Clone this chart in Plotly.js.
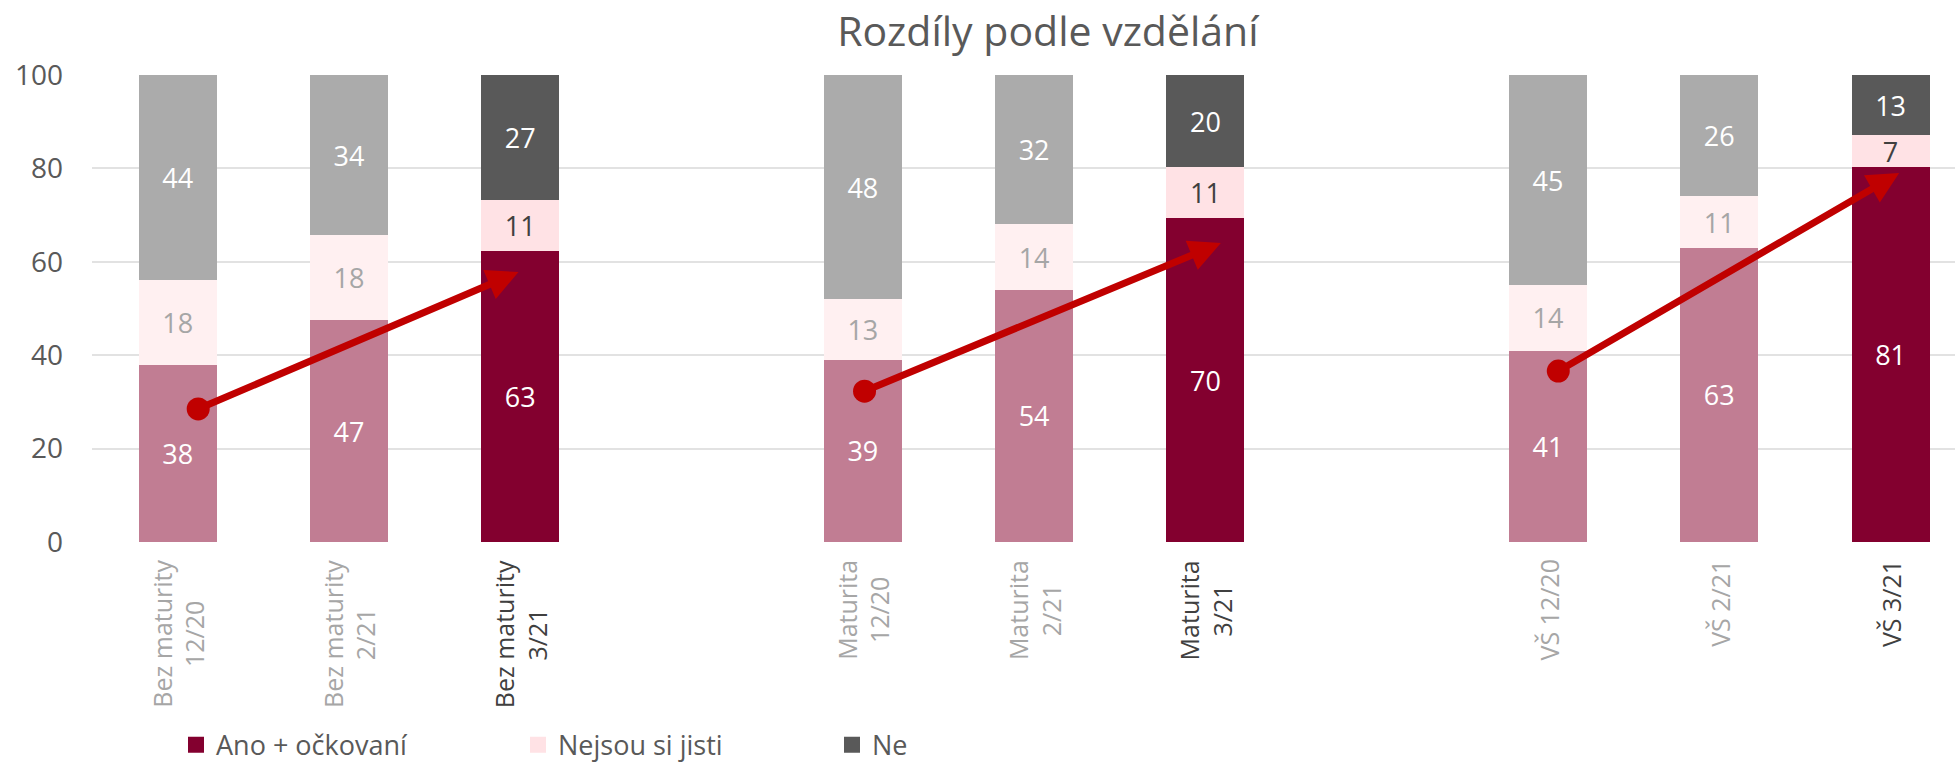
<!DOCTYPE html>
<html>
<head>
<meta charset="utf-8">
<script src="https://cdn.plot.ly/plotly-3.0.1.min.js"></script>
<style>html,body{margin:0;padding:0;background:#fff;}#chart{width:1955px;height:762px;}</style>
</head>
<body>
<div id="chart"></div>
<script>
// ---- data ----
const categories = ["Bez maturity 12/20", "Bez maturity 2/21", "Bez maturity 3/21", "mezera 1",
                    "Maturita 12/20", "Maturita 2/21", "Maturita 3/21", "mezera 2",
                    "VŠ 12/20", "VŠ 2/21", "VŠ 3/21"];
const tickLabels = ["Bez maturity<br>12/20", "Bez maturity<br>2/21", "Bez maturity<br>3/21", "",
                    "Maturita<br>12/20", "Maturita<br>2/21", "Maturita<br>3/21", "",
                    "VŠ 12/20", "VŠ 2/21", "VŠ 3/21"];
const latestWave = [false, false, true, null, false, false, true, null, false, false, true];
const ano    = [38, 47, 63, null, 39, 54, 70, null, 41, 63, 81];
const nejsou = [18, 18, 11, null, 13, 14, 11, null, 14, 11, 7];
const ne     = [44, 34, 27, null, 48, 32, 20, null, 45, 26, 13];
const seriesNames = ["Ano + očkovaní", "Nejsou si jisti", "Ne"];
// trend arrows (start point with dot, end point with arrow head)
const arrowStartX = [0.12, 4.01, 8.06];
const arrowStartY = [28.5, 32.3, 36.6];
const arrowEndX   = [1.99, 6.09, 10.05];
const arrowEndY   = [57.8, 64.0, 79.0];

// ---- styles ----
const FONT = "Open Sans, Noto Sans, sans-serif";
const colAnoOld = "#C17D93", colAnoNew = "#83002F";
const colNejOld = "#FFF0F1", colNejNew = "#FFE2E5";
const colNeOld = "#ABABAB", colNeNew = "#595959";
const red = "#C00000";
const xRange = [-0.5, 10.376];

function pick(arr, a, b) { return arr.map(v => v === null ? b : (v ? a : b)); }
function txt(vals) { return vals.map(v => v === null ? "" : String(v)); }

const barCommon = {
  type: "bar", x: categories, showlegend: false, hoverinfo: "skip",
  textposition: "inside", insidetextanchor: "middle", constraintext: "none", textangle: 0,
  marker: {line: {width: 0}}
};

const traces = [
  Object.assign({}, barCommon, {
    name: seriesNames[0], y: ano, text: txt(ano),
    marker: {color: pick(latestWave, colAnoNew, colAnoOld), line: {width: 0}},
    textfont: {family: FONT, size: 27, color: "#FFFFFF"}
  }),
  Object.assign({}, barCommon, {
    name: seriesNames[1], y: nejsou, text: txt(nejsou),
    marker: {color: pick(latestWave, colNejNew, colNejOld), line: {width: 0}},
    textfont: {family: FONT, size: 27, color: pick(latestWave, "#404040", "#A6A6A6")}
  }),
  Object.assign({}, barCommon, {
    name: seriesNames[2], y: ne, text: txt(ne),
    marker: {color: pick(latestWave, colNeNew, colNeOld), line: {width: 0}},
    textfont: {family: FONT, size: 27, color: "#FFFFFF"}
  }),
  {
    type: "scatter", mode: "markers", xaxis: "x2", yaxis: "y",
    x: arrowStartX, y: arrowStartY, showlegend: false, hoverinfo: "skip",
    marker: {size: 23, color: red, line: {width: 0}}
  }
];

// legend entries (one legend per item so they can be spaced like the original)
const legendColors = [colAnoNew, colNejNew, colNeNew];
const legendIds = ["legend", "legend2", "legend3"];
seriesNames.forEach((n, i) => {
  traces.push({
    type: "scatter", mode: "markers", xaxis: "x2", yaxis: "y",
    x: [null], y: [null], name: n, legend: legendIds[i], showlegend: true,
    marker: {symbol: "square", size: 18, color: legendColors[i]}
  });
});

const annotations = [];
categories.forEach((c, i) => {
  if (!tickLabels[i]) return;
  annotations.push({
    xref: "x", yref: "paper", x: c, y: 0, yanchor: "top", xanchor: "center",
    yshift: -16, text: tickLabels[i], textangle: -90, showarrow: false, align: "center",
    font: {family: FONT, size: 25, color: latestWave[i] ? "#404040" : "#A6A6A6"}
  });
});
arrowStartX.forEach((sx, i) => {
  annotations.push({
    xref: "x2", yref: "y", axref: "x2", ayref: "y",
    x: arrowEndX[i], y: arrowEndY[i], ax: sx, ay: arrowStartY[i],
    text: "", showarrow: true, arrowhead: 2, arrowsize: 0.9, arrowwidth: 7,
    arrowcolor: red, standoff: 0, startstandoff: 0
  });
});

const legendBase = {
  orientation: "h", xref: "container", yref: "container", xanchor: "left", yanchor: "middle",
  y: 0.022, font: {family: FONT, size: 27, color: "#595959"}, bgcolor: "rgba(0,0,0,0)",
  borderwidth: 0
};

const layout = {
  width: 1955, height: 762,
  margin: {l: 92, r: 0, t: 75, b: 220, autoexpand: false},
  paper_bgcolor: "#FFFFFF", plot_bgcolor: "#FFFFFF",
  barmode: "stack", barnorm: "percent", bargap: 0.545,
  title: {
    text: "Rozdíly podle vzdělání", xref: "container", yref: "container",
    x: 0.536, xanchor: "center", y: 0.958, yanchor: "middle",
    font: {family: FONT, size: 41, color: "#595959"}
  },
  xaxis: {
    type: "category", categoryorder: "array", categoryarray: categories,
    range: xRange, showticklabels: false, showgrid: false, zeroline: false,
    showline: false, ticks: "", fixedrange: true
  },
  xaxis2: {
    overlaying: "x", type: "linear", range: xRange, visible: false, fixedrange: true
  },
  yaxis: {
    range: [0, 100], dtick: 20, tick0: 0, showgrid: true, gridcolor: "#E2E2E2", gridwidth: 2,
    zeroline: false, showline: false, ticks: "", ticklabelstandoff: 28,
    tickfont: {family: FONT, size: 28, color: "#595959"}, fixedrange: true
  },
  legend: Object.assign({}, legendBase, {x: 176 / 1955}),
  legend2: Object.assign({}, legendBase, {x: 518 / 1955}),
  legend3: Object.assign({}, legendBase, {x: 832 / 1955}),
  annotations: annotations,
  showlegend: true
};

Plotly.newPlot("chart", traces, layout, {displayModeBar: false, staticPlot: true});
</script>
</body>
</html>
